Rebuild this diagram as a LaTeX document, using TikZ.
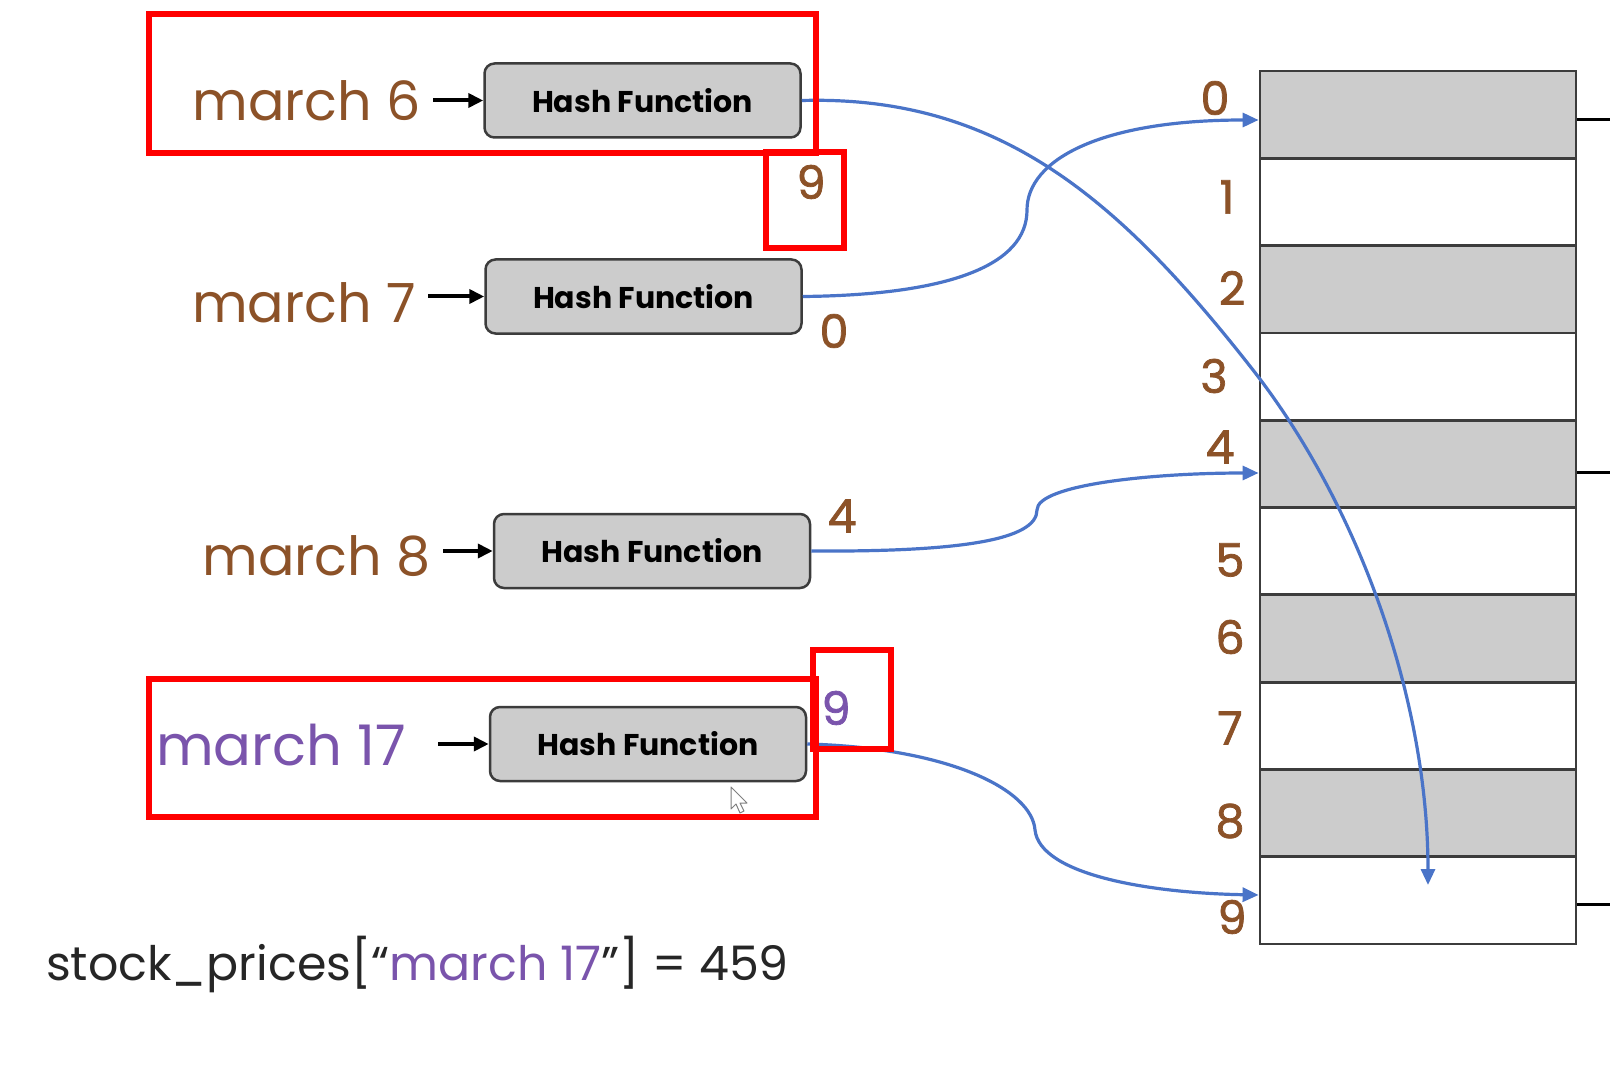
\documentclass[tikz,border=0pt]{standalone}
\usepackage{fontspec}
\setmainfont{Poppins}
\newfontfamily\medfont{Poppins}[FakeBold=1.6]
\usetikzlibrary{arrows.meta,calc}
\definecolor{brn}{RGB}{140,82,40}
\definecolor{prp}{RGB}{122,84,172}
\definecolor{blu}{RGB}{74,116,200}
\definecolor{cellgray}{RGB}{204,204,204}
\definecolor{edge}{RGB}{60,60,60}
\begin{document}
\begin{tikzpicture}[x=1pt,y=-1pt,
  hash/.style={draw=edge, line width=2.5pt, fill=cellgray, rounded corners=10pt,
    minimum width=316pt, minimum height=74pt, inner sep=0pt,
    font=\fontsize{30}{30}\selectfont\bfseries},
  key/.style={font=\fontsize{54}{54}\selectfont, text=brn, inner sep=0pt, anchor=base east},
  outl/.style={font=\fontsize{46}{46}\selectfont\medfont, text=brn, inner sep=0pt},
  idx/.style={font=\fontsize{46}{46}\selectfont\medfont, text=brn, inner sep=0pt},
  cell/.style={draw=edge, line width=2.8pt, minimum width=316pt, minimum height=87.3pt, inner sep=0pt},
  blk/.style={line width=4pt, -{Triangle[length=15pt,width=14pt]}},
  bl/.style={draw=blu, line width=3.2pt, -{Triangle[length=16pt,width=14pt]}, blu},
  redbox/.style={draw=red, line width=6pt},
  stub/.style={line width=3pt},
]
\fill[white] (0,0) rectangle (1610,1086);
\useasboundingbox (0,0) rectangle (1610,1086);

% table
\foreach \i in {0,...,9}{
  \pgfmathtruncatemacro{\g}{mod(\i,2)}
  \ifnum\g=0
    \node[cell, fill=cellgray] (r\i) at (1418, 114.65+87.3*\i) {};
  \else
    \node[cell, fill=white] (r\i) at (1418, 114.65+87.3*\i) {};
  \fi
}
\coordinate (s0) at (1610,120);
\coordinate (s4) at (1610,472);
\coordinate (s9) at (1610,904);
\draw[stub] (r0.east |- s0) -- (s0);
\draw[stub] (r4.east |- s4) -- (s4);
\draw[stub] (r9.east |- s9) -- (s9);

% indices
\node[idx] (i0) at (1215,98) {0};
\node[idx] (i1) at (1227,197) {1};
\node[idx] (i2) at (1232,288) {2};
\node[idx] (i3) at (1214,376) {3};
\node[idx] (i4) at (1220,447) {4};
\node[idx] (i5) at (1230,560) {5};
\node[idx] (i6) at (1230,637) {6};
\node[idx] (i7) at (1230,728) {7};
\node[idx] (i8) at (1230,821) {8};
\node[idx] (i9) at (1232,917) {9};

% keys and hash boxes
\node[hash] (h1) at (642.5,100.5) {Hash Function};
\node[hash] (h2) at (643.5,296.5) {Hash Function};
\node[hash] (h3) at (652,551) {Hash Function};
\node[hash] (h4) at (648,744) {Hash Function};

\node[key] (k1) at (421,121) {march 6};
\node[key] (k2) at (416,322) {march 7};
\node[key] (k3) at (431,575) {march 8};
\node[key, text=prp, font=\fontsize{56}{56}\selectfont] (k4) at (406,765) {march 17};

\draw[blk, shorten <=12pt] (h1.west -| k1.east) -- (h1.west);
\draw[blk, shorten <=12pt] (h2.west -| k2.east) -- (h2.west);
\draw[blk, shorten <=12pt] (h3.west -| k3.east) -- (h3.west);
\draw[blk, shorten <=32pt] (h4.west -| k4.east) -- (h4.west);

% output labels
\node[outl] (o1) at (811,182) {9};
\node[outl] (o2) at (834,331) {0};
\node[outl] (o3) at (842,516) {4};
\node[outl, text=prp] (o4) at (836,708) {9};

% blue curves
\coordinate (e1) at (1428,885);
\draw[bl] (h1.east) .. controls (1000,95) and (1120,200) .. (1253,370)
  .. controls (1359,506) and (1428,700) .. (e1);
\draw[bl] (h2.east) .. controls (950,295) and (1027,265) .. (1027,210)
  .. controls (1027,160) and (1100,120) .. (r0.west |- 0,120);
\draw[bl] (h3.east) .. controls (960,552) and (1037,540) .. (1037,510)
  .. controls (1037,485) and (1150,473) .. (r4.west |- 0,473);
\draw[bl] (h4.east) .. controls (950,748) and (1032,790) .. (1035,830)
  .. controls (1040,875) and (1150,893) .. (r9.west |- 0,895);

% red annotation boxes
\draw[redbox] (149,14) rectangle (816,153);
\draw[redbox] (766,152) rectangle (844,248);
\draw[redbox] (149,679) rectangle (816,817);
\draw[redbox] (813,650) rectangle (891,749);

% mouse cursor
\draw[gray, fill=white, line width=1pt, line join=round]
  (731,787) -- (731,809) -- (736,804) -- (740,813) -- (744,811) -- (740,803) -- (747,803) -- cycle;

% bottom expression
\node[font=\fontsize{47.5}{47.5}\selectfont, text=black!85, inner sep=0pt, anchor=base west] (expr) at (46,980)
  {stock\_prices[“\textcolor{prp}{march 17}”] = 459};
\end{tikzpicture}
\end{document}
